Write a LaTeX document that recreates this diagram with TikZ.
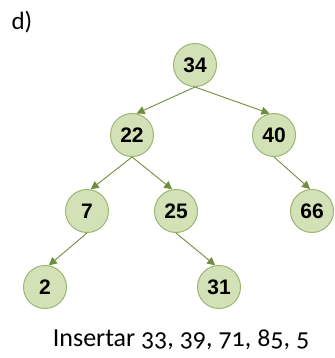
\documentclass[tikz,border=0pt]{standalone}
\usepackage{fontspec}
\setmainfont{Carlito}
\newfontfamily\nodefont{Liberation Sans}
\usetikzlibrary{arrows.meta}
\definecolor{nodefill}{HTML}{D3E2B6}
\definecolor{nodeedge}{HTML}{9DB573}
\definecolor{edgecol}{HTML}{6F8E3E}
\begin{document}
\begin{tikzpicture}[x=1pt,y=-1pt,
  bnode/.style={circle,fill=nodefill,draw=nodeedge,line width=1pt,minimum size=43pt,inner sep=0pt,
    font=\nodefont\bfseries\fontsize{21}{21}\selectfont},
  link/.style={draw=edgecol,line width=0.9pt,-{Triangle[length=8pt,width=8pt]}}]
\useasboundingbox (0,0) rectangle (334,358);
\node[anchor=west,font=\fontsize{25}{25}\selectfont] (lab) at (8,22) {d)};
\node[bnode] (n34) at (195,65) {34};
\node[bnode] (n22) at (132,135) {22};
\node[bnode] (n40) at (274,135) {40};
\node[bnode] (n7) at (87,211) {7};
\node[bnode] (n25) at (176,211) {25};
\node[bnode] (n66) at (312,211) {66};
\node[bnode] (n2) at (45,287) {2};
\node[bnode] (n31) at (219,287) {31};
\draw[link] (n34.south) -- (n22.78);
\draw[link] (n34.south) -- (n40.102);
\draw[link] (n22.south) -- (n7.80);
\draw[link] (n22.south) -- (n25.100);
\draw[link] (n40.south) -- (n66.95);
\draw[link] (n7.south) -- (n2.80);
\draw[link] (n25.south) -- (n31.100);
\node[font=\fontsize{26}{26}\selectfont] (ins) at (181,340) {Insertar {\addfontfeatures{Numbers=OldStyle}33, 39, 71, 85, 5}};
\end{tikzpicture}
\end{document}
